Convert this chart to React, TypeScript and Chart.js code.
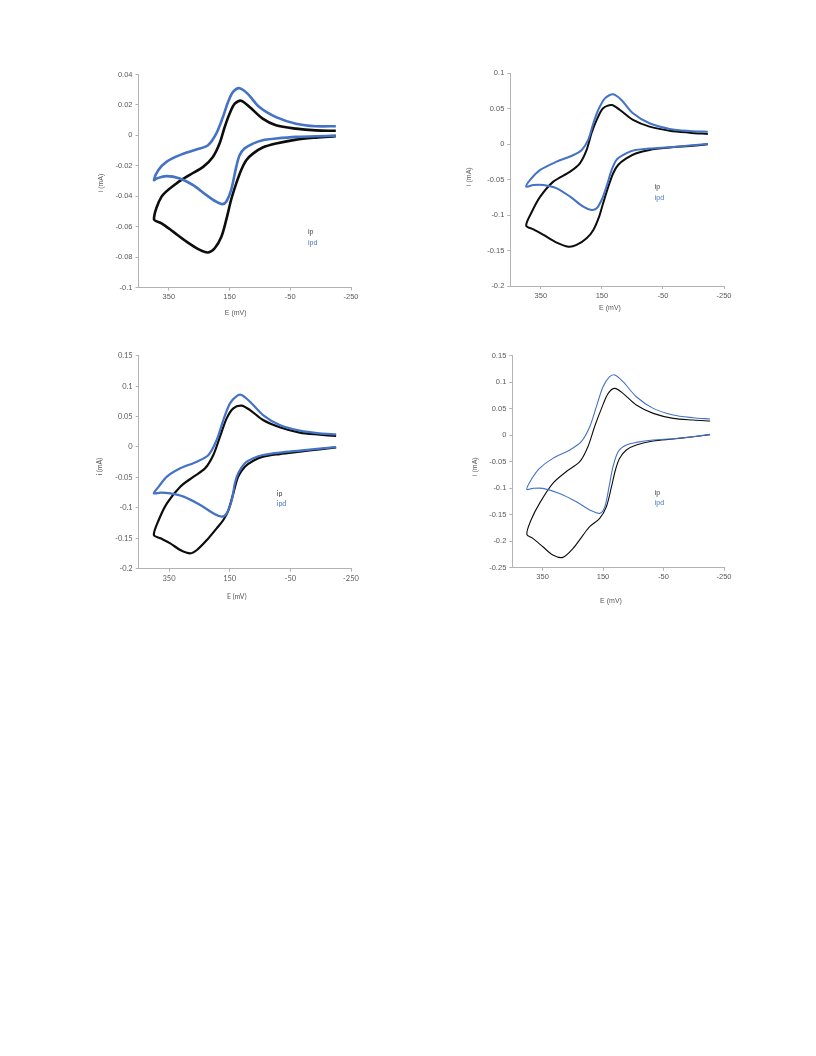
import React, { useEffect, useRef } from "react";
import { Chart, registerables } from "chart.js";

Chart.register(...registerables);

type Pt = [number, number];

// ---------- data (E in mV, i in mA) ----------
const seriesNames = ["ip", "ipd"];
const xTickValues = [350, 150, -50, -250];
const xMin = -250;
const xMax = 450;
const yMins = [-0.1, -0.2, -0.2, -0.25];
const yMaxs = [0.04, 0.1, 0.15, 0.15];
const ySteps = [0.02, 0.05, 0.05, 0.05];

const p1Ip: Pt[] = [
  [-200, -0.0006], [-134, -0.0015], [-69, -0.0028], [-3, -0.0054], [41, -0.008], [73, -0.012], [95, -0.0163],
  [112, -0.0229], [128, -0.0316], [145, -0.0425], [161, -0.0556], [177, -0.0666], [199, -0.0742], [221, -0.077],
  [248, -0.0753], [292, -0.0698], [336, -0.0633], [374, -0.0578], [399, -0.0552],
  [374, -0.0403], [325, -0.0316], [281, -0.026], [237, -0.0207], [205, -0.0142], [183, -0.0054], [166, 0.0055],
  [150, 0.0142], [133, 0.0208], [112, 0.0228], [84, 0.0186], [41, 0.011], [-3, 0.0066], [-69, 0.0044],
  [-134, 0.0033], [-200, 0.003],
];
const p1Ipd: Pt[] = [
  [-200, -0.0002], [-134, -0.0006], [-69, -0.001], [-3, -0.0021], [41, -0.0032], [73, -0.0054], [101, -0.0087],
  [117, -0.0131], [128, -0.0207], [145, -0.036], [161, -0.0436], [174, -0.0452], [194, -0.0436], [226, -0.0393],
  [270, -0.0327], [314, -0.0283], [358, -0.0268], [390, -0.0283], [399, -0.0294],
  [385, -0.0229], [358, -0.0174], [314, -0.013], [259, -0.0093], [221, -0.0065], [194, 0.0011], [172, 0.012],
  [155, 0.0219], [139, 0.0284], [117, 0.031], [90, 0.0273], [52, 0.0186], [-3, 0.012], [-69, 0.0077],
  [-134, 0.006], [-200, 0.006],
];
const p2Ip: Pt[] = [
  [-197, -0.0001], [-137, -0.0025], [-72, -0.0048], [-6, -0.0081], [37, -0.0128], [70, -0.0199], [97, -0.0293],
  [113, -0.041], [129, -0.0599], [146, -0.0834], [159, -0.1022], [178, -0.121], [200, -0.1327], [233, -0.1421],
  [260, -0.1445], [298, -0.1388], [341, -0.128], [374, -0.12], [398, -0.1149],
  [379, -0.095], [352, -0.074], [309, -0.0528], [254, -0.0387], [222, -0.027], [200, -0.0081], [184, 0.0154],
  [167, 0.0342], [146, 0.0506], [118, 0.0553], [91, 0.0483], [48, 0.0342], [-6, 0.0248], [-72, 0.0191],
  [-137, 0.0163], [-197, 0.0144],
];
const p2Ipd: Pt[] = [
  [-197, 0.0003], [-137, -0.002], [-72, -0.0043], [-6, -0.0062], [48, -0.0091], [80, -0.0152], [102, -0.0222],
  [118, -0.0363], [135, -0.0599], [151, -0.0787], [167, -0.0904], [184, -0.0928], [211, -0.0881], [254, -0.074],
  [298, -0.0622], [341, -0.0575], [374, -0.0575], [398, -0.06],
  [385, -0.0504], [352, -0.0363], [298, -0.0246], [243, -0.0152], [216, -0.0081], [195, 0.006], [178, 0.0295],
  [162, 0.0483], [140, 0.0647], [113, 0.0704], [86, 0.0624], [48, 0.0436], [-6, 0.0295], [-72, 0.0215],
  [-137, 0.0187], [-197, 0.0177],
];
const p3Ip: Pt[] = [
  [-201, -0.0006], [-146, -0.0039], [-81, -0.0077], [-15, -0.0116], [40, -0.0159], [72, -0.0225], [100, -0.0323],
  [122, -0.0488], [138, -0.0762], [154, -0.1036], [171, -0.12], [193, -0.1337], [225, -0.1528], [258, -0.1693],
  [280, -0.1748], [313, -0.1693], [346, -0.1583], [378, -0.1501], [400, -0.1446],
  [384, -0.12], [357, -0.0926], [313, -0.0652], [269, -0.0488], [231, -0.0351], [204, -0.0132], [182, 0.0169],
  [160, 0.047], [138, 0.0635], [111, 0.0679], [83, 0.0607], [40, 0.0443], [-15, 0.0323], [-81, 0.0235],
  [-146, 0.0203], [-201, 0.0181],
];
const p3Ipd: Pt[] = [
  [-201, 0], [-146, -0.0028], [-81, -0.006], [-15, -0.0093], [40, -0.0132], [72, -0.0186], [100, -0.0268],
  [122, -0.0433], [133, -0.0597], [143, -0.0871], [160, -0.109], [176, -0.1145], [204, -0.109], [247, -0.0953],
  [302, -0.0816], [346, -0.0762], [378, -0.0751], [400, -0.0762],
  [384, -0.0652], [357, -0.0488], [313, -0.0351], [258, -0.0241], [220, -0.0132], [193, 0.0115], [171, 0.0443],
  [149, 0.0717], [127, 0.0837], [111, 0.0854], [83, 0.0744], [40, 0.0525], [-15, 0.0361], [-81, 0.0268],
  [-146, 0.0224], [-201, 0.0208],
];
const p4Ip: Pt[] = [
  [-204, 0.001], [-148, -0.0028], [-82, -0.0072], [-16, -0.011], [40, -0.0186], [73, -0.028], [95, -0.0437],
  [109, -0.0657], [122, -0.0972], [139, -0.1349], [161, -0.1569], [194, -0.1726], [216, -0.1884], [249, -0.2135],
  [283, -0.2305], [316, -0.2261], [349, -0.2104], [382, -0.1947], [402, -0.1871],
  [388, -0.16], [360, -0.1286], [316, -0.0909], [272, -0.0689], [227, -0.05], [200, -0.0217], [178, 0.016],
  [155, 0.0506], [133, 0.0789], [111, 0.0884], [84, 0.0789], [40, 0.0569], [-16, 0.0412], [-82, 0.0318],
  [-148, 0.0286], [-204, 0.0267],
];
const p4Ipd: Pt[] = [
  [-204, 0.0016], [-148, -0.0028], [-82, -0.0066], [-16, -0.0091], [40, -0.0135], [73, -0.0186], [100, -0.0311],
  [117, -0.0594], [130, -0.0972], [144, -0.1349], [161, -0.1475], [194, -0.1412], [238, -0.1255], [294, -0.1098],
  [349, -0.1003], [382, -0.1003], [402, -0.1022],
  [388, -0.0846], [360, -0.0626], [316, -0.0437], [260, -0.028], [222, -0.0123], [194, 0.016], [172, 0.0538],
  [150, 0.0915], [128, 0.1104], [111, 0.1135], [84, 0.1009], [40, 0.0726], [-16, 0.0506], [-82, 0.0381],
  [-148, 0.033], [-204, 0.0305],
];

const panelData: [Pt[], Pt[]][] = [
  [p1Ip, p1Ipd],
  [p2Ip, p2Ipd],
  [p3Ip, p3Ipd],
  [p4Ip, p4Ipd],
];

// ---------- layout / style (page pixel coordinates) ----------
interface PanelLayout {
  area: [number, number, number, number]; // left, top, right, bottom
  yTitle: [number, number];
  xTitle: [number, number];
  legend: [number, number, number];
  lineWidth: number;
  family: string;
}

const ARIAL = '"Liberation Sans", Arial, sans-serif';
const LATO = 'Lato, "Liberation Sans", sans-serif';

const layouts: PanelLayout[] = [
  { area: [138.5, 74.5, 351, 287.5], yTitle: [101.5, 183], xTitle: [235.7, 312.7], legend: [308, 232, 243.3], lineWidth: 2.6, family: ARIAL },
  { area: [510.3, 73.3, 724, 286], yTitle: [469, 176.7], xTitle: [610, 308.3], legend: [654.7, 186.7, 197.7], lineWidth: 2.0, family: ARIAL },
  { area: [138.7, 355.7, 351, 568.7], yTitle: [100, 466.7], xTitle: [236.7, 596.7], legend: [276.7, 493.3, 503.3], lineWidth: 2.2, family: LATO },
  { area: [512.3, 355.7, 724, 567.7], yTitle: [475, 466.7], xTitle: [611, 600.7], legend: [654.7, 493.3, 503.3], lineWidth: 1.1, family: ARIAL },
];

const BLACK = "#0d0d0d";
const BLUE = "#4472C4";
const TEXT = "#595959";
const AXIS = "#b3b3b3";
const TICK_SIZE = 7.5;

function fmtTick(v: number | string): string {
  const n = Math.round(Number(v) * 1e6) / 1e6;
  return String(n);
}

function Panel({ idx }: { idx: number }) {
  const ref = useRef<HTMLCanvasElement | null>(null);
  const L = layouts[idx];
  const [aL, aT, aR, aB] = L.area;
  const cLeft = Math.floor(aL) - 60;
  const cTop = Math.floor(aT) - 12;
  const cW = Math.ceil(aR) + 22 - cLeft;
  const cH = Math.ceil(aB) + 46 - cTop;
  const padL = aL - cLeft;
  const padT = aT - cTop;
  const padR = cLeft + cW - aR;
  const padB = cTop + cH - aB;

  useEffect(() => {
    if (!ref.current) return;
    const [ipPts, ipdPts] = panelData[idx];
    const fontStr = (s: number) => `${s}px ${L.family}`;
    const items = [
      { text: "i (mA)", x: L.yTitle[0], y: L.yTitle[1], color: TEXT, rotate: -Math.PI / 2, align: "center", size: 7 },
      { text: "E (mV)", x: L.xTitle[0], y: L.xTitle[1], color: TEXT, rotate: 0, align: "center", size: 7 },
      { text: seriesNames[0], x: L.legend[0], y: L.legend[1], color: "#404040", rotate: 0, align: "left", size: 7 },
      { text: seriesNames[1], x: L.legend[0], y: L.legend[2], color: BLUE, rotate: 0, align: "left", size: 7 },
    ];
    const annotate = {
      id: "annotate" + idx,
      afterDraw(chart: any) {
        const ctx = chart.ctx as CanvasRenderingContext2D;
        for (const t of items) {
          ctx.save();
          ctx.font = fontStr(t.size);
          ctx.fillStyle = t.color;
          ctx.textAlign = t.align as CanvasTextAlign;
          ctx.textBaseline = "middle";
          ctx.translate(t.x - cLeft, t.y - cTop);
          if (t.rotate) ctx.rotate(t.rotate);
          ctx.fillText(t.text, 0, 0);
          ctx.restore();
        }
      },
    };
    const chart = new Chart(ref.current, {
      type: "scatter",
      data: {
        datasets: [
          {
            label: seriesNames[0],
            data: ipPts.map(([x, y]) => ({ x, y })),
            showLine: true,
            borderColor: BLACK,
            backgroundColor: BLACK,
            borderWidth: L.lineWidth,
            pointRadius: 0,
            tension: 0.3,
            fill: false,
            order: 1,
          },
          {
            label: seriesNames[1],
            data: ipdPts.map(([x, y]) => ({ x, y })),
            showLine: true,
            borderColor: BLUE,
            backgroundColor: BLUE,
            borderWidth: L.lineWidth,
            pointRadius: 0,
            tension: 0.3,
            fill: false,
            order: 0,
          },
        ],
      },
      options: {
        responsive: false,
        animation: false,
        layout: { padding: { left: 0, top: padT, right: padR, bottom: 0 } },
        plugins: { legend: { display: false }, tooltip: { enabled: false } },
        scales: {
          x: {
            type: "linear",
            reverse: true,
            min: xMin,
            max: xMax,
            afterBuildTicks: (s: any) => {
              s.ticks = xTickValues.map((v) => ({ value: v }));
            },
            afterFit: (s: any) => {
              s.height = padB;
            },
            grid: { display: true, drawOnChartArea: false, drawTicks: true, tickLength: 3, color: AXIS },
            border: { display: true, color: AXIS, width: 1 },
            ticks: {
              color: TEXT,
              font: { family: L.family, size: TICK_SIZE },
              padding: 2,
              maxRotation: 0,
              autoSkip: false,
              callback: (v: any) => fmtTick(v),
            },
          },
          y: {
            type: "linear",
            min: yMins[idx],
            max: yMaxs[idx],
            afterFit: (s: any) => {
              s.width = padL;
            },
            grid: { display: true, drawOnChartArea: false, drawTicks: true, tickLength: 3, color: AXIS },
            border: { display: true, color: AXIS, width: 1 },
            ticks: {
              stepSize: ySteps[idx],
              color: TEXT,
              font: { family: L.family, size: TICK_SIZE },
              padding: 3,
              callback: (v: any) => fmtTick(v),
            },
          },
        },
      },
      plugins: [annotate],
    });
    return () => chart.destroy();
  }, [idx]);

  return (
    <canvas
      ref={ref}
      width={cW}
      height={cH}
      style={{ position: "absolute", left: cLeft - 8, top: cTop - 8, width: cW, height: cH, display: "block" }}
    />
  );
}

export default function App() {
  return (
    <div style={{ position: "relative", width: 800, height: 1040, background: "#fff" }}>
      {layouts.map((_, i) => (
        <Panel key={i} idx={i} />
      ))}
    </div>
  );
}
